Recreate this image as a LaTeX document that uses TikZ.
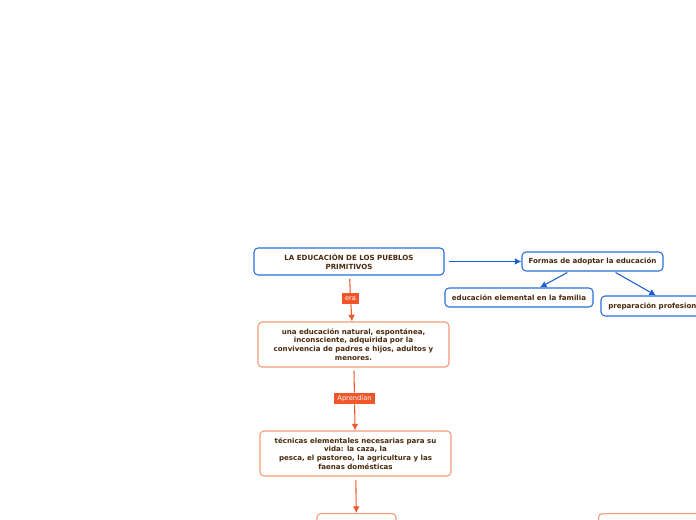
\documentclass[tikz,border=0pt]{standalone}
\usepackage{fontspec}
\setmainfont{DejaVu Sans}
\usetikzlibrary{arrows.meta,positioning}

\definecolor{topicblue}{HTML}{2A6FD8}
\definecolor{linkblue}{HTML}{1E5FCF}
\definecolor{subborder}{HTML}{F39A78}
\definecolor{linkorange}{HTML}{F0562A}
\definecolor{textbrown}{HTML}{4A2A0C}

\tikzset{
    topic/.style = {
        draw=topicblue,
        line width=0.8pt,
        rounded corners=3pt,
        fill=white,
        text=textbrown,
        align=center,
        inner sep=0pt,
        font=\bfseries\fontsize{5.3}{6.5}\selectfont
    },
    subtopic/.style = {
        topic,
        draw=subborder
    },
    linklabel/.style = {
        fill=linkorange,
        text=white,
        inner sep=0pt,
        minimum height=8.25pt,
        font=\fontsize{5}{6}\selectfont
    },
    bluelink/.style = {
        linkblue,
        line width=0.8pt,
        -{Latex[length=5pt,width=5pt]}
    },
    orangelink/.style = {
        linkorange,
        line width=0.8pt
    }
}

\begin{document}
\begin{tikzpicture}[x=0.75pt,y=-0.75pt]
    \useasboundingbox (0,0) rectangle (696,520);
    \clip (0,0) rectangle (696,520);

    % Blue part
    \node[topic, minimum width=142.5pt, minimum height=20.25pt] (pueblos) at (349,261.5)
        {LA EDUCACIÓN DE LOS PUEBLOS\\PRIMITIVOS};
    \node[topic, minimum width=105.75pt, minimum height=14.25pt] (formas) at (592.5,261.5)
        {Formas de adoptar la educación};
    \node[topic, minimum width=111pt, minimum height=14.25pt] (familia) at (519,297.5)
        {educación elemental en la familia};
    \node[topic, minimum width=82.5pt, minimum height=15pt] (profesional) at (656,306)
        {preparación profesional};

    \draw[bluelink, shorten <=3pt] (pueblos) -- (formas);
    \draw[bluelink, shorten <=1.5pt] ([xshift=-17.6pt]formas.south) -- ([xshift=15.7pt]familia.north);
    \draw[bluelink, shorten <=1.5pt] ([xshift=16pt]formas.south) -- (profesional.north);

    % Orange part
    \node[subtopic, minimum width=143.25pt, minimum height=33.75pt] (natural) at (353.5,344.5)
        {una educación natural, espontánea,\\inconsciente, adquirida por la\\convivencia de padres e hijos, adultos y\\menores.};
    \node[subtopic, minimum width=143.25pt, minimum height=33.75pt] (tecnicas) at (355.5,453.5)
        {técnicas elementales necesarias para su\\vida: la caza, la\\pesca, el pastoreo, la agricultura y las\\faenas domésticas};
    \node[subtopic, minimum width=59.25pt, minimum height=22pt, anchor=north] (abajo) at (356.5,513) {};
    \node[subtopic, minimum width=90pt, minimum height=22pt, anchor=north west] (derecha) at (598,513) {};

    \node[linklabel, minimum width=12.75pt] (era) at (350.5,298.5) {era};
    \node[linklabel, minimum width=30.75pt] (aprendian) at (354.5,398.5) {Aprendían};

    \draw[orangelink, shorten <=2.5pt] (pueblos) -- (era);
    \draw[orangelink, -{Latex[length=5pt,width=5pt]}] (era) -- (natural);
    \draw[orangelink, shorten <=2.5pt] (natural) -- (aprendian);
    \draw[orangelink, -{Latex[length=5pt,width=5pt]}] (aprendian) -- (tecnicas);
    \draw[orangelink, shorten <=2.5pt, -{Latex[length=5pt,width=5pt]}] (tecnicas) -- (abajo);
\end{tikzpicture}
\end{document}
